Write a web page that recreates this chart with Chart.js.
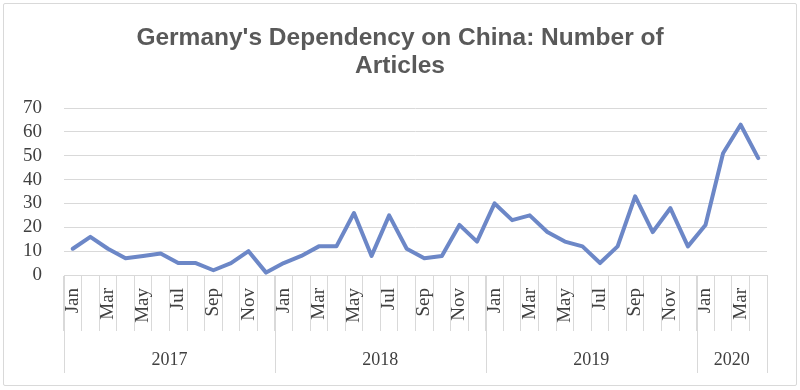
<!DOCTYPE html>
<html>
<head>
<meta charset="utf-8">
<script src="https://cdn.jsdelivr.net/npm/chart.js@4"></script>
<style>
  body { margin: 0; background: #fff; }
  #marco { position: absolute; left: 3px; top: 3px; width: 792px; height: 381px; border: 1px solid #d9d9d9; border-radius: 2px; }
</style>
</head>
<body>
<div id="marco"><canvas id="grafica"></canvas></div>
<script>
// meses (etiquetas del eje X), 2017-01 .. 2020-04
const meses = [
  'Jan','Feb','Mar','Apr','May','Jun','Jul','Aug','Sep','Oct','Nov','Dec',
  'Jan','Feb','Mar','Apr','May','Jun','Jul','Aug','Sep','Oct','Nov','Dec',
  'Jan','Feb','Mar','Apr','May','Jun','Jul','Aug','Sep','Oct','Nov','Dec',
  'Jan','Feb','Mar','Apr'
];
const anios = ['2017', '2018', '2019', '2020'];
const mesesPorAnio = [12, 12, 12, 4];

// numero de articulos por mes
const articulos = [
  11, 16, 11, 7, 8, 9, 5, 5, 2, 5, 10, 1,
  5, 8, 12, 12, 26, 8, 25, 11, 7, 8, 21, 14,
  30, 23, 25, 18, 14, 12, 5, 12, 33, 18, 28, 12,
  21, 51, 63, 49
];

const gris = '#d9d9d9';
const texto = '#404040';
const serif = '"Liberation Serif", "DejaVu Serif", serif';

// dibuja los años debajo de los meses
const pluginAnios = {
  id: 'anios',
  afterDraw(chart) {
    const x = chart.scales.x;
    const ctx = chart.ctx;
    const paso = x.getPixelForValue(1) - x.getPixelForValue(0);
    const arriba = x.top;
    const abajo = x.top + 98;
    let inicio = 0;
    let x1 = 0;
    ctx.save();
    ctx.strokeStyle = gris;
    ctx.lineWidth = 1;
    ctx.fillStyle = texto;
    ctx.font = '18px ' + serif;
    ctx.textAlign = 'center';
    ctx.textBaseline = 'middle';
    anios.forEach((a, i) => {
      const fin = inicio + mesesPorAnio[i];
      const x0 = x.getPixelForValue(inicio) - paso / 2;
      x1 = x.getPixelForValue(fin - 1) + paso / 2;
      const px = Math.round(x0) + 0.5;
      ctx.beginPath();
      ctx.moveTo(px, arriba);
      ctx.lineTo(px, abajo);
      ctx.stroke();
      ctx.fillText(a, (x0 + x1) / 2, arriba + 85);
      inicio = fin;
    });
    const pf = Math.round(x1) + 0.5;
    ctx.beginPath();
    ctx.moveTo(pf, arriba);
    ctx.lineTo(pf, abajo);
    ctx.stroke();
    ctx.restore();
  }
};

const ctx = document.getElementById('grafica').getContext('2d');
const chart = new Chart(ctx, {
  type: 'line',
  data: {
    labels: meses,
    datasets: [{
      label: 'Articles',
      data: articulos,
      borderColor: '#6c87c7',
      borderWidth: 4,
      pointRadius: 0,
      borderJoinStyle: 'round',
      borderCapStyle: 'round',
      tension: 0,
      fill: false
    }]
  },
  options: {
    responsive: true,
    maintainAspectRatio: false,
    animation: false,
    layout: { padding: { left: 29, right: 29, top: 0, bottom: 0 } },
    scales: {
      y: {
        min: 0,
        max: 70,
        afterFit: (s) => { s.width = 31; },
        grid: { color: gris, drawTicks: false },
        border: { display: false },
        ticks: {
          stepSize: 10, autoSkip: false,
          mirror: true, crossAlign: 'far', padding: -41,
          color: texto, font: { family: serif, size: 19 }
        }
      },
      x: {
        offset: true,
        afterFit: (s) => { s.height = 110; },
        grid: { color: gris, offset: true, drawOnChartArea: false, tickLength: 56 },
        border: { display: true, color: gris },
        ticks: {
          autoSkip: false,
          minRotation: 90,
          maxRotation: 90,
          padding: -43,
          color: texto,
          font: { family: serif, size: 19 },
          callback: (v, i) => (i % 2 === 0 ? meses[i] : '')
        }
      }
    },
    plugins: {
      legend: { display: false },
      tooltip: { enabled: false },
      title: {
        display: true,
        text: ["Germany's Dependency on China: Number of", 'Articles'],
        color: '#595959',
        font: { family: '"Liberation Sans", Arial, sans-serif', size: 24.5, weight: 'bold', lineHeight: 28 / 24.5 },
        padding: { top: 20, bottom: 28 }
      }
    }
  },
  plugins: [pluginAnios]
});
</script>
</body>
</html>
